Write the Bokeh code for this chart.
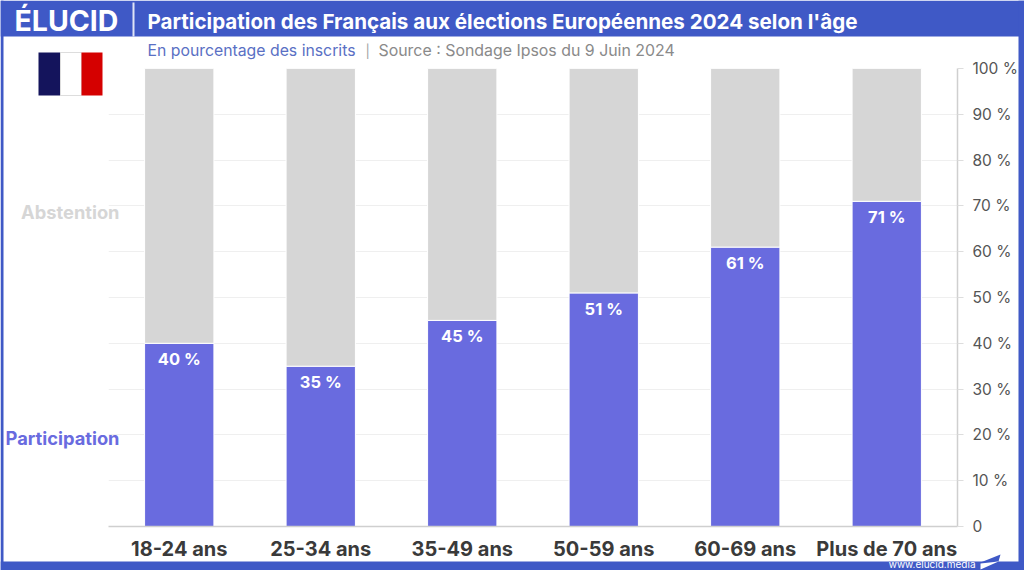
from bokeh.plotting import figure
from bokeh.models import FactorRange, Range1d, FixedTicker, ColumnDataSource
from bokeh.core.properties import value
from bokeh.embed import file_html
from bokeh.resources import INLINE

categories = ["18-24 ans", "25-34 ans", "35-49 ans", "50-59 ans", "60-69 ans", "Plus de 70 ans"]
participation = [40, 35, 45, 51, 61, 71]
abstention = [60, 65, 55, 49, 39, 29]
y_ticks = [0, 10, 20, 30, 40, 50, 60, 70, 80, 90, 100]
y_tick_labels = ["0"] + [f"{v} %" for v in y_ticks[1:]]
bar_labels = [f"{v} %" for v in participation]

FONT = "Inter"
BLUE = "#3f59c6"
W, H = 1024, 570

p = figure(width=W, height=H, x_range=FactorRange(factors=categories, range_padding=0),
           y_range=Range1d(0, 100), output_backend="svg", toolbar_location=None,
           y_axis_location="right", min_border_left=108, min_border_right=W - 957,
           min_border_top=68, min_border_bottom=H - 526, outline_line_color=None,
           background_fill_color="white", border_fill_color="white")

p.xgrid.visible = False
p.ygrid.ticker = FixedTicker(ticks=y_ticks)
p.ygrid.grid_line_color = "#efefef"
p.ygrid.grid_line_width = 1

src = ColumnDataSource(dict(cat=categories, participation=participation, abstention=abstention,
                            lab=bar_labels))
p.vbar_stack(["participation", "abstention"], x="cat", width=0.49, source=src,
             color=["#696bdf", "#d6d6d6"], line_color="white", line_width=1)
p.text(x="cat", y="participation", text="lab", source=src, text_color="white",
       text_font=value(FONT), text_font_style="bold", text_font_size="16.5px",
       text_align="center", text_baseline="middle", y_offset=16)

ax = p.xaxis[0]
ax.axis_line_color = "#cfcfcf"
ax.axis_line_width = 1.5
ax.major_tick_line_color = None
ax.minor_tick_line_color = None
ax.major_label_text_font = FONT
ax.major_label_text_font_size = "20px"
ax.major_label_text_font_style = "bold"
ax.major_label_text_color = "#3a3a3a"
ax.major_label_standoff = 4
ax.major_label_orientation = "horizontal"

ay = p.yaxis[0]
ay.ticker = FixedTicker(ticks=y_ticks)
ay.major_label_overrides = dict(zip(y_ticks, y_tick_labels))
ay.axis_line_color = "#cfcfcf"
ay.axis_line_width = 1.5
ay.major_tick_line_color = "#dddddd"
ay.major_tick_in = 0
ay.major_tick_out = 6
ay.minor_tick_line_color = None
ay.major_label_text_font = FONT
ay.major_label_text_font_size = "15.5px"
ay.major_label_text_color = "#555555"
ay.major_label_standoff = 9

# transparent layer over the chart, in page pixels, for the header, footer, flag and side labels
o = figure(width=W, height=H, x_range=Range1d(0, W), y_range=Range1d(H, 0),
           x_axis_type=None, y_axis_type=None, output_backend="svg", toolbar_location=None,
           min_border=0, outline_line_color=None, background_fill_color=None,
           border_fill_color=None, margin=(-H, 0, 0, 0))
o.xgrid.visible = False
o.ygrid.visible = False


def box(l, t, r, b, color, line=None):
    o.quad(left=l, right=r, top=t, bottom=b, fill_color=color, line_color=line)


def label(x, y, text, size, color, style="normal", align="left"):
    o.text(x=[x], y=[y], text=[text], text_font=value(FONT), text_font_size=f"{size}px",
           text_font_style=style, text_color=color, text_align=align, text_baseline="middle")


# header, frame and footer bands
box(0, 0, 1024, 36, BLUE)
box(1018, 0, 1024, 570, BLUE)
box(0, 0, 3, 570, BLUE)
box(0, 561, 1024, 570, BLUE)
box(132, 2, 134, 36, "#dfe4f6")

# flag
box(38, 52, 60, 95, "#14145c")
box(60, 52, 81, 95, "#ffffff", "#dddddd")
box(81, 52, 102, 95, "#d50000")

label(14, 20, "ÉLUCID", 28.5, "white", "bold")
label(147, 21, "Participation des Français aux élections Européennes 2024 selon l'âge",
      20.6, "white", "bold")
label(147, 50, "En pourcentage des inscrits", 15.8, "#5a70c4")
label(365, 50, "|", 13, "#a0a0a0")
label(378, 50, "Source : Sondage Ipsos du 9 Juin 2024", 15.9, "#8a8a8a")
label(119, 211, "Abstention", 18.3, "#d6d6d6", "bold", "right")
label(119, 437, "Participation", 18.3, "#696bdf", "bold", "right")
label(975, 563.5, "www.elucid.media", 10, "#ffffff", "normal", "right")

o.patch(x=[980, 1000, 998, 980], y=[562, 554, 561, 563], fill_color=BLUE, line_color=None)
o.patch(x=[980, 998, 980], y=[563, 561, 569], fill_color="white", line_color=None)

open("out.html", "w").write(file_html([p, o], INLINE))
